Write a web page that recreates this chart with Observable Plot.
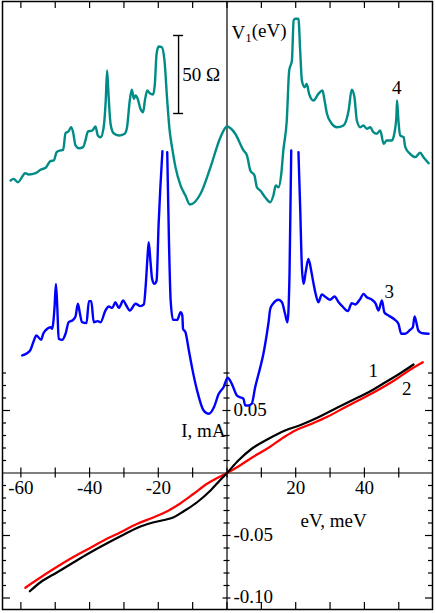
<!DOCTYPE html>
<html>
<head>
<meta charset="utf-8">
<script src="https://cdn.jsdelivr.net/npm/d3@7"></script>
<script src="https://cdn.jsdelivr.net/npm/@observablehq/plot@0.6"></script>
<style>
  html, body { margin: 0; padding: 0; background: #fff; }
  #chart svg { display: block; }
  #chart svg text { font-family: "Liberation Serif", "Times New Roman", serif; }
</style>
</head>
<body>
<div id="chart"></div>
<script>
// ---------- data ----------
// curve 4 (teal): resistance, Ω above its own baseline, vs eV (meV)
const eV4 = [-63.0,-62.1,-60.9,-58.7,-57.7,-55.7,-54.3,-52.8,-51.4,-50.4,-49.6,-48.5,-47.7,-47.0,-46.1,-45.4,-44.8,-44.1,-43.1,-41.9,-41.2,-40.5,-39.2,-38.3,-37.6,-36.8,-35.9,-35.3,-34.9,-34.5,-33.9,-33.0,-31.5,-29.8,-29.1,-28.3,-27.7,-27.1,-26.6,-26.0,-25.2,-24.4,-23.9,-23.2,-22.5,-21.5,-21.0,-20.5,-19.9,-19.0,-18.2,-17.4,-16.7,-16.0,-15.0,-13.5,-12.1,-10.8,-7.7,-4.8,-1.9,0.0,2.4,4.8,5.8,6.8,8.0,8.7,9.7,11.1,12.6,13.5,14.2,15.0,15.8,16.4,17.4,18.1,18.9,19.4,19.9,20.8,21.3,21.8,22.6,23.2,23.9,25.2,26.6,27.8,28.4,29.1,30.5,32.0,33.9,35.4,36.3,37.1,37.8,38.8,39.7,40.7,41.7,42.6,43.6,44.6,45.6,46.5,48.0,48.7,49.3,49.5,49.9,50.4,51.4,51.9,53.3,54.8,56.2,57.2,58.7];
const R4 = [19.2,20.3,18.1,23.9,23.1,23.9,26.1,27.4,31.6,32.1,37.4,38.5,38.9,49.5,50.8,53.4,50.2,41.7,39.9,40.6,44.9,50.6,51.3,53.8,48.1,47.0,53.4,70.5,89.7,74.8,55.6,49.5,48.1,49.2,53.4,70.5,77.4,71.6,73.7,71.6,65.2,63.0,70.5,76.9,75.2,74.4,81.2,100.4,105.1,104.7,96.2,70.5,51.3,40.6,27.8,16.0,9.6,3.8,10.7,27.8,47.0,53.8,49.2,38.5,35.3,25.6,22.4,14.9,12.8,8.5,5.3,9.6,16.0,14.9,23.5,38.5,57.7,89.7,96.2,121.8,122.9,122.9,102.6,83.3,79.0,81.2,74.8,70.5,74.8,76.9,70.5,62.0,55.6,53.4,54.5,64.1,77.4,72.6,57.7,53.4,54.5,52.4,53.4,50.2,49.2,51.3,42.8,44.9,44.9,49.2,59.8,70.5,57.7,48.1,47.0,40.6,36.3,34.2,37.0,34.2,30.3];

// curve 3 (blue): resistance, Ω above its own baseline (null = off the top, clipped)
const eV3 = [-59.6,-58.2,-57.2,-56.2,-55.5,-54.1,-53.5,-52.3,-51.4,-50.9,-50.2,-49.8,-49.4,-49.0,-48.0,-47.0,-46.1,-44.8,-44.1,-43.4,-42.8,-42.2,-40.9,-40.2,-39.5,-38.8,-37.6,-36.8,-35.4,-34.4,-33.4,-32.5,-31.5,-30.2,-29.3,-28.3,-26.6,-25.2,-24.2,-23.7,-23.2,-22.8,-22.3,-21.8,-21.1,-20.5,-19.9,-19.4,-18.8,-18.1,-17.4,-16.9,-16.4,-15.7,-14.5,-13.5,-13.0,-12.8,-12.1,-11.1,-10.1,-8.7,-6.8,-5.3,-3.8,-2.4,-1.0,0.2,1.4,2.9,3.8,4.8,5.3,6.3,7.2,8.2,9.7,10.6,11.6,12.1,12.6,13.5,15.0,16.0,16.9,17.6,18.2,18.7,19.7,20.8,21.3,21.8,22.3,22.9,23.7,24.5,25.2,25.8,26.6,27.6,28.8,30.0,31.3,32.5,33.6,35.2,36.3,37.3,38.8,39.7,40.7,42.2,43.3,44.1,45.1,45.8,47.0,48.5,49.9,50.7,51.9,53.3,54.1,54.6,55.1,55.7,56.7,58.7];
const R3 = [41.7,43.1,45.3,51.3,54.5,51.7,55.6,58.8,59.8,58.8,72.6,87.6,72.6,52.4,51.7,55.6,63.0,64.5,66.7,74.8,68.4,63.0,62.4,76.5,76.5,63.0,63.7,63.0,70.5,73.1,72.2,75.8,72.2,76.9,73.7,70.5,74.8,73.3,74.4,85.4,102.6,114.3,102.6,90.8,87.6,89.7,126.1,149.5,172.6,null,172.0,115.4,76.9,64.5,64.5,69.4,67.3,58.8,56.6,44.9,33.1,19.2,6.4,4.3,8.5,17.1,21.3,27.4,23.5,16.0,14.9,13.9,9.6,9.6,10.7,21.3,34.2,42.8,55.6,63.0,71.6,75.2,77.4,75.8,68.4,63.0,94.0,173.1,null,172.0,136.7,98.3,87.6,95.1,103.6,96.2,87.6,81.2,75.8,80.8,79.0,77.4,79.5,75.8,73.1,70.1,75.2,74.4,78.0,81.2,79.0,77.4,74.8,70.5,76.9,69.4,67.3,65.2,62.0,55.6,55.6,58.1,59.8,66.7,63.0,57.7,56.0,55.6];

// curves 1 (black) and 2 (red): current I, mA vs eV, meV
const eV1 = [-57.4,-54.3,-49.4,-44.6,-40.2,-34.9,-30.0,-25.2,-21.3,-17.9,-15.5,-12.6,-8.7,-4.8,-2.1,0.0,3.3,7.2,12.1,16.9,21.8,26.6,31.5,36.3,41.2,46.1,50.9,54.3];
const I1  = [-0.0946,-0.0874,-0.0794,-0.0714,-0.0642,-0.0562,-0.0492,-0.0428,-0.0394,-0.0374,-0.0354,-0.0306,-0.0234,-0.0140,-0.0060,0,0.0100,0.0194,0.0274,0.0340,0.0388,0.0446,0.0514,0.0580,0.0646,0.0726,0.0806,0.0868];
const eV2 = [-58.7,-55.3,-50.4,-45.6,-40.7,-35.9,-31.0,-26.1,-21.3,-17.4,-13.5,-9.7,-5.8,-2.4,0.0,3.3,7.2,12.1,16.9,19.9,24.7,29.5,34.4,39.2,44.1,49.0,53.3,57.0];
const I2  = [-0.0918,-0.0854,-0.0766,-0.0686,-0.0612,-0.0540,-0.0474,-0.0406,-0.0354,-0.0306,-0.0242,-0.0166,-0.0086,-0.0034,0,0.0052,0.0122,0.0202,0.0292,0.0340,0.0394,0.0454,0.0526,0.0594,0.0666,0.0746,0.0826,0.0886];

// ticks
const xTicks = [-60,-50,-40,-30,-20,-10,0,10,20,30,40,50];
const xTickLabels = [-60,-40,-20,20,40];
const yTicks = [-0.10,-0.09,-0.08,-0.07,-0.06,-0.05,-0.04,-0.03,-0.02,-0.01,0.01,0.02,0.03,0.04,0.05,0.06,0.07,0.08];
const yMajor = [-0.10,-0.05,0.05];
const yTickLabels = ["0.05","-0.05","-0.10"];
const yTickLabelValues = [0.05,-0.05,-0.10];

// scale bar
const scaleBarOhm = 50;

// ---------- layout ----------
const W = 436, H = 613;
const mL = 2, mR = 4, mT = 1, mB = 4;
const xDom = [-65.35, 59.82];
const yDom = [-0.1092, 0.3772];
const kx = (xDom[1] - xDom[0]) / (W - mL - mR);   // meV per px
const ky = (yDom[1] - yDom[0]) / (H - mT - mB);   // mA per px
const OHM = 78 * ky / 50;                          // mA-units per Ω (50 Ω bar = 78 px)
const base4 = 0.21, base3 = 0.042;                 // vertical offsets of curves 4 and 3

const pts4 = eV4.map((x, i) => ({x, y: base4 + R4[i] * OHM}));
const pts3 = eV3.map((x, i) => ({x, y: R3[i] == null ? NaN : base3 + R3[i] * OHM}));
const pts1 = eV1.map((x, i) => ({x, y: I1[i]}));
const pts2 = eV2.map((x, i) => ({x, y: I2[i]}));

const font = "Liberation Serif";
const fs = 19;
const sbX = -14.1, sbTop = 0.35;
const T = {fontSize: fs, fontFamily: font, fill: "black"};

const plot = Plot.plot({
  width: W, height: H,
  marginLeft: mL, marginRight: mR, marginTop: mT, marginBottom: mB,
  x: {domain: xDom, axis: null},
  y: {domain: yDom, axis: null},
  style: {background: "white", fontFamily: font},
  marks: [
    // central axes
    Plot.ruleX([0], {stroke: "black", strokeWidth: 1.2}),
    Plot.ruleY([0], {stroke: "black", strokeWidth: 1.2}),
    // x ticks on horizontal axis
    Plot.ruleX(xTicks, {y1: -5 * ky, y2: 5 * ky, stroke: "black", strokeWidth: 1.2}),
    // top / bottom border ticks
    Plot.ruleX(xTicks, {y1: yDom[1], y2: yDom[1] - 7 * ky, stroke: "black", strokeWidth: 1.2}),
    Plot.ruleX(xTicks, {y1: yDom[0], y2: yDom[0] + 7 * ky, stroke: "black", strokeWidth: 1.2}),
    // y ticks: left border, center axis, right border
    Plot.ruleY(yTicks, {x1: xDom[0], x2: d => xDom[0] + (yMajor.includes(d) ? 8 : 4) * kx, stroke: "black", strokeWidth: 1.2}),
    Plot.ruleY(yTicks, {x1: d => -(yMajor.includes(d) ? 4 : 3) * kx, x2: d => (yMajor.includes(d) ? 4 : 3) * kx, stroke: "black", strokeWidth: 1.2}),
    Plot.ruleY(yTicks, {x1: d => xDom[1] - (yMajor.includes(d) ? 7 : 4) * kx, x2: xDom[1], stroke: "black", strokeWidth: 1.2}),
    // tick labels
    Plot.text(xTickLabels, {x: d => d, y: -15 * ky, text: d => String(d), ...T}),
    Plot.text(yTickLabels, {x: 1.9, y: (d, i) => yTickLabelValues[i], text: d => d, textAnchor: "start", dy: -1, ...T}),
    // curves
    Plot.line(pts4, {x: "x", y: "y", stroke: "#008b86", strokeWidth: 2.4, curve: "monotone-x"}),
    Plot.line(pts3, {x: "x", y: "y", stroke: "#0000ff", strokeWidth: 2.4, curve: "monotone-x"}),
    Plot.line(pts2, {x: "x", y: "y", stroke: "#ff0000", strokeWidth: 2.2, curve: "monotone-x"}),
    Plot.line(pts1, {x: "x", y: "y", stroke: "black", strokeWidth: 2.2, curve: "monotone-x"}),
    // 50 Ω scale bar
    Plot.ruleX([sbX], {y1: sbTop, y2: sbTop - scaleBarOhm * OHM, stroke: "black", strokeWidth: 1.4}),
    Plot.ruleY([sbTop, sbTop - scaleBarOhm * OHM], {x1: sbX - 5 * kx, x2: sbX + 5 * kx, stroke: "black", strokeWidth: 1.4}),
    Plot.text([scaleBarOhm + " Ω"], {x: -13.0, y: sbTop - scaleBarOhm * OHM / 2, text: d => d, textAnchor: "start", ...T}),
    // labels
    Plot.text(["V1(eV)"], {x: 1.3, y: 0.3524, text: d => d, textAnchor: "start", ...T}),
    Plot.text(["I, mA"], {x: -0.4, y: 0.034, text: d => d, textAnchor: "end", ...T}),
    Plot.text(["eV, meV"], {x: 21.4, y: -0.038, text: d => d, textAnchor: "start", ...T}),
    Plot.text(["4"], {x: 49.4, y: 0.3084, text: d => d, ...T}),
    Plot.text(["3"], {x: 47.2, y: 0.1446, text: d => d, ...T}),
    Plot.text(["1"], {x: 42.6, y: 0.0814, text: d => d, ...T}),
    Plot.text(["2"], {x: 52.3, y: 0.0674, text: d => d, ...T}),
    Plot.frame({stroke: "black", strokeWidth: 1.5})
  ]
});

document.getElementById("chart").appendChild(plot);

// subscript in V1(eV)
d3.select(plot).selectAll("text").each(function () {
  if (this.textContent === "V1(eV)") {
    const t = d3.select(this);
    t.text(null);
    t.append("tspan").text("V");
    t.append("tspan").attr("dy", "0.3em").attr("font-size", "13").text("1");
    t.append("tspan").attr("dy", "-0.3em").text("(eV)");
  }
});
</script>
</body>
</html>
